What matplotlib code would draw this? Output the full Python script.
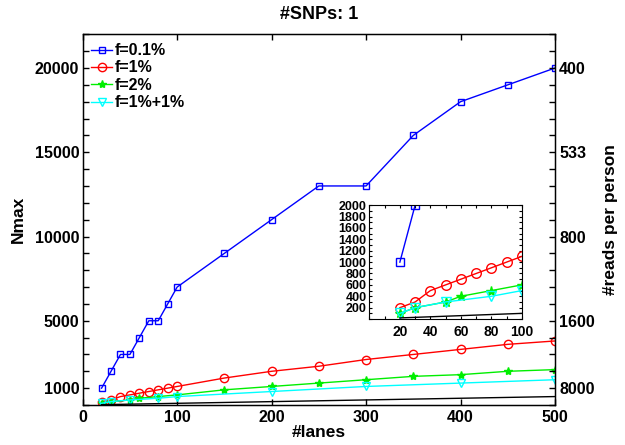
import matplotlib
matplotlib.use('Agg')
import matplotlib.pyplot as plt
from matplotlib.ticker import MultipleLocator
import numpy as np

plt.rcParams['font.family'] = ['Liberation Sans', 'DejaVu Sans']
plt.rcParams['font.weight'] = 'bold'

# data
x_01 = [20, 30, 40, 50, 60, 70, 80, 90, 100, 150, 200, 250, 300, 350, 400, 450, 500]
y_01 = [1000, 2000, 3000, 3000, 4000, 5000, 5000, 6000, 7000, 9000, 11000, 13000, 13000, 16000, 18000, 19000, 20000]

x_1 = [20, 30, 40, 50, 60, 70, 80, 90, 100, 150, 200, 250, 300, 350, 400, 450, 500]
y_1 = [200, 300, 500, 600, 700, 800, 900, 1000, 1100, 1600, 2000, 2300, 2700, 3000, 3300, 3600, 3800]

x_2 = [20, 30, 50, 60, 80, 100, 150, 200, 250, 300, 350, 400, 450, 500]
y_2 = [100, 200, 300, 400, 500, 600, 900, 1100, 1300, 1500, 1700, 1800, 2000, 2100]

x_11 = [20, 30, 50, 80, 100, 200, 300, 400, 500]
y_11 = [100, 200, 300, 400, 500, 800, 1100, 1300, 1500]

x_base = [20, 100, 200, 300, 400, 500]
y_base = [20, 100, 200, 300, 400, 500]

left_ticks = [1000, 5000, 10000, 15000, 20000]
right_labels = ['8000', '1600', '800', '533', '400']

def draw_series(ax, ms_scale=1.0):
    ax.plot(x_01, y_01, color='b', marker='s', ms=4.5 * ms_scale, mfc='none', mew=1, lw=1, label='f=0.1%')
    ax.plot(x_1, y_1, color='r', marker='o', ms=6 * ms_scale, mfc='none', mew=1, lw=1, label='f=1%')
    ax.plot(x_2, y_2, color='#00ee00', marker='*', ms=6 * ms_scale, mew=1, lw=1, label='f=2%')
    ax.plot(x_11, y_11, color='cyan', marker='v', ms=6 * ms_scale, mfc='none', mew=1, lw=1, label='f=1%+1%')
    ax.plot(x_base, y_base, color='k', lw=1)

fig = plt.figure(figsize=(6.25, 4.45), dpi=100)
ax = fig.add_axes([0.1323, 0.0899, 0.7557, 0.833])
draw_series(ax)
ax.set_xlim(0, 500)
ax.set_ylim(0, 22000)
ax.set_xticks([0, 100, 200, 300, 400, 500])
ax.set_yticks(left_ticks)
ax.yaxis.set_minor_locator(MultipleLocator(1000))
ax.tick_params(which='both', direction='in', top=True, length=4, width=1, labelsize=11.5)
ax.tick_params(axis='y', pad=2.5)
ax.set_xlabel('#lanes', fontsize=12.5, fontweight='bold', labelpad=0)
ax.set_ylabel('Nmax', fontsize=12.5, fontweight='bold', labelpad=6)
ax.set_title('#SNPs: 1', fontsize=13, fontweight='bold', pad=11)
for s in ax.spines.values():
    s.set_linewidth(1)

leg = ax.legend(loc='upper left', frameon=False, fontsize=11.5, handlelength=1.3,
                handletextpad=0.15, borderaxespad=0.25, borderpad=0.3, labelspacing=0.15)
for t in leg.get_texts():
    t.set_fontweight('bold')

ax2 = ax.twinx()
ax2.set_ylim(ax.get_ylim())
ax2.set_yticks(left_ticks)
ax2.set_yticklabels(right_labels)
ax2.yaxis.set_minor_locator(MultipleLocator(1000))
ax2.tick_params(which='both', direction='in', length=4, width=1, labelsize=11.5, pad=3)
ax2.set_ylabel('#reads per person', fontsize=12.5, fontweight='bold', labelpad=6)

# inset zoom on the first 100 lanes
axi = fig.add_axes([0.591, 0.283, 0.244, 0.256])
draw_series(axi, ms_scale=1.15)
axi.set_xlim(0, 100)
axi.set_ylim(0, 2000)
axi.set_xticks([20, 40, 60, 80, 100])
axi.set_yticks(np.arange(200, 2001, 200))
axi.xaxis.set_minor_locator(MultipleLocator(10))
axi.yaxis.set_minor_locator(MultipleLocator(100))
axi.tick_params(which='both', direction='in', top=True, right=True, length=2.5, width=0.8, pad=2)
axi.tick_params(axis='y', labelsize=9)
axi.tick_params(axis='x', labelsize=10, pad=4)

fig.savefig('out.png', dpi=100)
